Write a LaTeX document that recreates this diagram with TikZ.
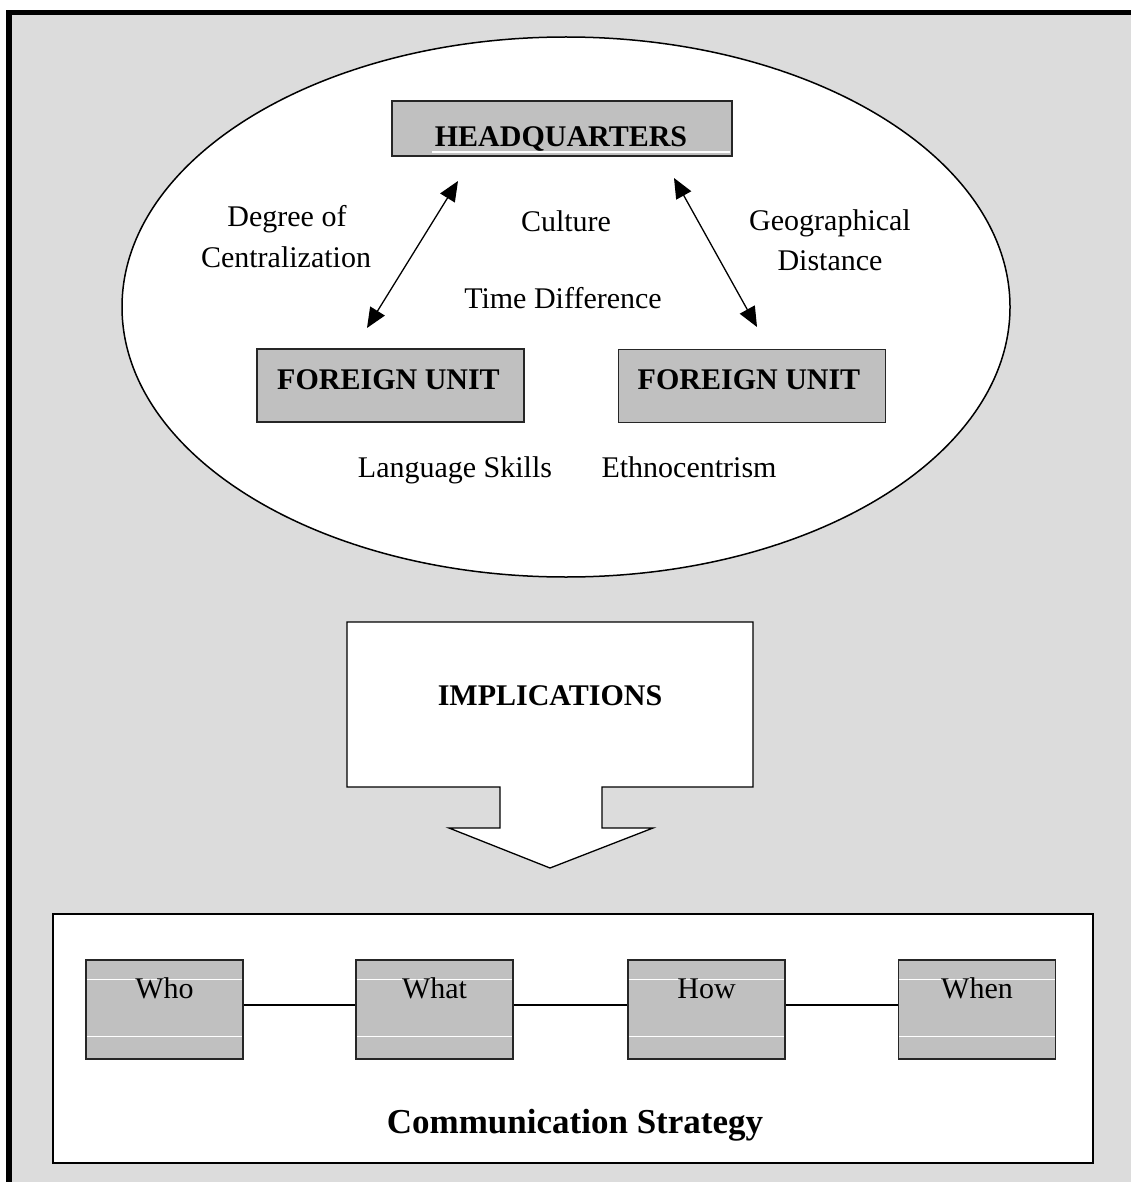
\documentclass[tikz,border=0pt]{standalone}
\usepackage{fontspec}
\setmainfont{Liberation Serif}
\usetikzlibrary{arrows.meta,calc,shapes.geometric}
\definecolor{bggray}{RGB}{220,220,220}
\definecolor{boxgray}{RGB}{192,192,192}
\begin{document}
\begin{tikzpicture}[x=1pt,y=-1pt,
  txt/.style={font=\fontsize{30}{36}\selectfont, anchor=base, inner sep=0pt},
  btxt/.style={font=\fontsize{30}{36}\selectfont\bfseries, anchor=base, inner sep=0pt},
  graybox/.style={draw=black!85, line width=1.5pt, fill=boxgray, inner sep=0pt},
  smallbox/.style={graybox, minimum width=157, minimum height=99},
  fubox/.style={graybox, minimum width=267, minimum height=73},
  biarrow/.style={line width=1.3pt, {Triangle[length=20pt,width=17pt]}-{Triangle[length=20pt,width=17pt]}},
  whiteline/.style={white, line width=1.2pt},
  link/.style={line width=1.3pt}
]
\useasboundingbox (0,0) rectangle (1131,1182);
% outer frame
\draw[line width=5.5pt, fill=bggray] (9,12.5) rectangle (1150,1200);
% ellipse
\node[ellipse, draw, fill=white, line width=1.5pt, minimum width=888, minimum height=540, inner sep=0pt] (ell) at (566,307) {};
% headquarters
\node[graybox, minimum width=340, minimum height=55] (hq) at (562,128.5) {};
\draw[whiteline] (432,152) -- (730,152);
\node[btxt] (hqt) at (561,147) {HEADQUARTERS};
% foreign units
\node[fubox] (fu1) at (390.5,385.5) {};
\node[btxt] (fu1t) at (388.5,389) {FOREIGN UNIT};
\node[fubox] (fu2) at (752,386) {};
\node[btxt] (fu2t) at (749,389) {FOREIGN UNIT};
% arrow endpoints
\coordinate (la) at (367,328);
\coordinate (lb) at (458,181);
\coordinate (ra) at (674,178);
\coordinate (rb) at (757,327);
\draw[biarrow] (la) -- (lb);
\draw[biarrow] (ra) -- (rb);
% labels
\node[txt] (deg) at (287,227) {Degree of};
\node[txt] (cen) at (286,267) {Centralization};
\node[txt] (cul) at (566,232) {Culture};
\node[txt] (tim) at (563,308) {Time Difference};
\node[txt] (geo) at (830,230) {Geographical};
\node[txt] (dis) at (830,270) {Distance};
\node[txt] (lan) at (455,477) {Language Skills};
\node[txt] (eth) at (689,477) {Ethnocentrism};
% implications callout
\draw[fill=white, line width=1.3pt] (347,622) -- (753,622) -- (753,787) -- (602,787) -- (602,828) -- (653,828) -- (550,868) -- (449,828) -- (500,828) -- (500,787) -- (347,787) -- cycle;
\node[btxt] (imp) at (550,705) {IMPLICATIONS};
% communication strategy box
\node[draw, line width=2pt, fill=white, minimum width=1040, minimum height=249, inner sep=0pt] (cs) at (573,1038.5) {};
\node[btxt, font=\fontsize{35}{42}\selectfont\bfseries] (cst) at (575,1133) {Communication Strategy};
% small boxes
\foreach \nm/\xx/\lab in {who/164.5/Who, what/434.5/What, how/706.5/How, when/977/When}{
  \node[smallbox] (\nm) at (\xx,1009.5) {};
  \draw[whiteline] ($(\nm.north west)+(1.5,20)$) -- ($(\nm.north east)+(-1.5,20)$);
  \draw[whiteline] ($(\nm.south west)+(1.5,-23)$) -- ($(\nm.south east)+(-1.5,-23)$);
  \node[txt] (\nm t) at (\xx,998) {\lab};
}
\draw[link] ([yshift=4.5pt]who.east) -- ([yshift=4.5pt]what.west);
\draw[link] ([yshift=4.5pt]what.east) -- ([yshift=4.5pt]how.west);
\draw[link] ([yshift=4.5pt]how.east) -- ([yshift=4.5pt]when.west);
\end{tikzpicture}
\end{document}
